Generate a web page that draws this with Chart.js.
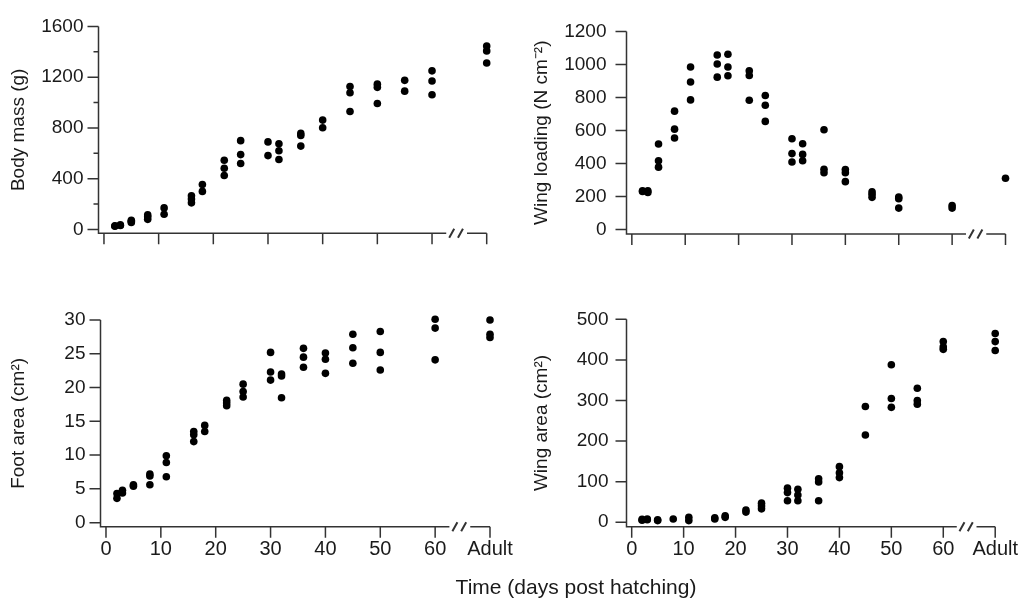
<!DOCTYPE html>
<html>
<head>
<meta charset="utf-8">
<script src="https://cdn.jsdelivr.net/npm/chart.js@4.4.1/dist/chart.umd.min.js"></script>
<style>
  html, body { margin: 0; padding: 0; background: #fff; overflow: hidden; }
  #wrap { position: relative; width: 1029px; height: 605px; }
  canvas { position: absolute; left: 0; top: 0; }
  #xtitle {
    position: absolute; left: 376px; width: 400px; top: 575px; line-height: 26px;
    text-align: center; font: 21px "Liberation Sans", Arial, sans-serif; color: #1a1a1a;
  }
</style>
</head>
<body>
<div id="wrap">
  <canvas id="c1" width="1029" height="605"></canvas>
  <canvas id="c2" width="1029" height="605"></canvas>
  <canvas id="c3" width="1029" height="605"></canvas>
  <canvas id="c4" width="1029" height="605"></canvas>
  <div id="xtitle">Time (days post hatching)</div>
</div>
<script>
// "Adult" sits one tick past 60 on the broken axis
const ADULT = 70;
const days = [2, 3, 5, 8, 11, 16, 18, 22, 25, 30, 32, 36, 40, 45, 50, 55, 60, ADULT];
const xTicks = [0, 10, 20, 30, 40, 50, 60, ADULT];

// one list of readings per day (empty where nothing was measured)
const bodyMass = [[25, 30], [32, 36], [55, 65, 72], [80, 100, 115], [120, 170], [210, 240, 265],
  [300, 355], [425, 482, 545], [520, 590, 700], [582, 690], [552, 620, 675], [657, 740, 757],
  [802, 862], [930, 1077, 1127], [992, 1120, 1145], [1090, 1175], [1062, 1170, 1250], [1312, 1407, 1445]];
const wingLoading = [[235, 230], [235, 225], [378, 417, 518], [554, 608, 717], [785, 894, 984],
  [923, 1003, 1057], [931, 984, 1062], [783, 933, 961], [655, 753, 812], [409, 460, 550],
  [417, 455, 520], [344, 365, 604], [290, 344, 363], [195, 214, 229], [130, 187, 197], [],
  [130, 145], [311]];
const footArea = [[3.6, 4.3], [4.4, 4.8], [5.4, 5.6], [5.6, 6.9, 7.2], [6.8, 8.9, 9.9],
  [12.0, 13.0, 13.5], [13.5, 14.4], [17.3, 17.7, 18.1], [18.6, 19.4, 20.5], [21.1, 22.3, 25.2],
  [18.5, 21.7, 22.0], [23.0, 24.5, 25.8], [22.1, 24.2, 25.1], [23.6, 25.9, 27.9],
  [22.6, 25.2, 28.3], [], [24.1, 28.8, 30.1], [27.4, 27.9, 30.0]];
const wingArea = [[5, 7], [6, 8], [4, 6], [8], [4, 12], [8, 11], [12, 16], [25, 30], [33, 40, 47],
  [53, 73, 84], [53, 67, 81], [53, 99, 107], [110, 122, 137], [215, 285], [283, 305, 388],
  [291, 300, 330], [426, 432, 445], [423, 445, 465]];

const bodyMassTicks = [0, 200, 400, 600, 800, 1000, 1200, 1400, 1600];
const wingLoadingTicks = [0, 200, 400, 600, 800, 1000, 1200];
const footAreaTicks = [0, 5, 10, 15, 20, 25, 30];
const wingAreaTicks = [0, 100, 200, 300, 400, 500];

const W = 1029, H = 605, XH = 40;
Chart.defaults.font.family = '"Liberation Sans", Arial, sans-serif';
Chart.defaults.font.size = 19;
Chart.defaults.color = '#1a1a1a';

// draws both axis lines, the tick marks and the // break on the time axis
const brokenAxes = {
  id: 'brokenAxes',
  afterDraw(chart, args, o) {
    const { ctx, scales: { x, y } } = chart;
    const x0 = x.getPixelForValue(x.min), x1 = x.getPixelForValue(x.max);
    const yb = y.getPixelForValue(y.min), yt = y.getPixelForValue(y.max);
    const b0 = x.getPixelForValue(o.breakFrom), b1 = x.getPixelForValue(o.breakTo);
    ctx.save();
    ctx.strokeStyle = '#333';
    ctx.lineWidth = 1.5;
    ctx.beginPath();
    ctx.moveTo(x0, yt);
    ctx.lineTo(x0, yb);
    ctx.lineTo(b0, yb);
    ctx.moveTo(b1, yb);
    ctx.lineTo(x1, yb);
    x.ticks.forEach(t => {
      const p = x.getPixelForValue(t.value);
      ctx.moveTo(p, yb);
      ctx.lineTo(p, yb + 11);
    });
    y.ticks.forEach(t => {
      const p = y.getPixelForValue(t.value);
      const len = t.value % o.labelEvery ? 5 : 11;
      ctx.moveTo(x0, p);
      ctx.lineTo(x0 - len, p);
    });
    ctx.stroke();
    ctx.lineWidth = 2;
    ctx.beginPath();
    o.slashes.forEach(v => {
      const p = x.getPixelForValue(v);
      ctx.moveTo(p - 2.5, yb + 4.5);
      ctx.lineTo(p + 2.5, yb - 4.5);
    });
    ctx.stroke();
    ctx.restore();
  }
};

function makePanel(id, values, o) {
  const pts = [];
  days.forEach((d, i) => values[i].forEach(v => pts.push({ x: d, y: v })));
  const [left, top, right, bottom] = o.area;
  new Chart(document.getElementById(id), {
    type: 'scatter',
    data: {
      datasets: [{ data: pts, backgroundColor: '#000', borderWidth: 0, pointRadius: 3.8, clip: false }]
    },
    options: {
      responsive: false,
      animation: false,
      events: [],
      layout: { padding: { left: left - o.yW, top: top, right: W - right, bottom: H - bottom - XH } },
      plugins: {
        legend: { display: false },
        tooltip: { enabled: false },
        brokenAxes: { breakFrom: 62.6, breakTo: 66.4, slashes: [63.6, 65.2], labelEvery: o.labelEvery }
      },
      scales: {
        x: {
          type: 'linear', min: -1, max: ADULT,
          afterBuildTicks: s => { s.ticks = xTicks.map(v => ({ value: v })); },
          afterFit: s => { s.height = XH; },
          grid: { display: false, drawTicks: false },
          border: { display: false },
          ticks: {
            display: o.xLabels, padding: 11, maxRotation: 0, minRotation: 0, autoSkip: false,
            font: { size: 20 },
            callback: v => (v === ADULT ? 'Adult' : v)
          }
        },
        y: {
          type: 'linear', min: o.yRange[0], max: o.yRange[1],
          afterBuildTicks: s => { s.ticks = o.yTicks.map(v => ({ value: v })); },
          afterFit: s => { s.width = o.yW; },
          grid: { display: false, drawTicks: false },
          border: { display: false },
          ticks: {
            padding: o.tickPad, autoSkip: false,
            callback: v => (v % o.labelEvery ? '' : v)
          },
          title: { display: true, text: o.title, padding: { top: o.titlePad, bottom: 0 } }
        }
      }
    },
    plugins: [brokenAxes]
  });
}

makePanel('c1', bodyMass, {
  area: [98.5, 16, 486.7, 233.3], yW: 98.5, yRange: [-30, 1600], yTicks: bodyMassTicks,
  labelEvery: 400, tickPad: 15, title: 'Body mass (g)', titlePad: 7.6, xLabels: false
});
makePanel('c2', wingLoading, {
  area: [626.5, 20, 1005.5, 234], yW: 100, yRange: [-27, 1200], yTicks: wingLoadingTicks,
  labelEvery: 200, tickPad: 20, title: 'Wing loading (N cm\u207B\u00B2)', titlePad: 4, xLabels: false
});
makePanel('c3', footArea, {
  area: [100.5, 320, 490, 526.7], yW: 100.5, yRange: [-0.6, 30], yTicks: footAreaTicks,
  labelEvery: 5, tickPad: 15, title: 'Foot area (cm\u00B2)', titlePad: 7.6, xLabels: true
});
makePanel('c4', wingArea, {
  area: [626.5, 319.3, 1005.5, 526.7], yW: 100, yRange: [-11, 500], yTicks: wingAreaTicks,
  labelEvery: 100, tickPad: 18, title: 'Wing area (cm\u00B2)', titlePad: 4, xLabels: true
});
</script>
</body>
</html>
